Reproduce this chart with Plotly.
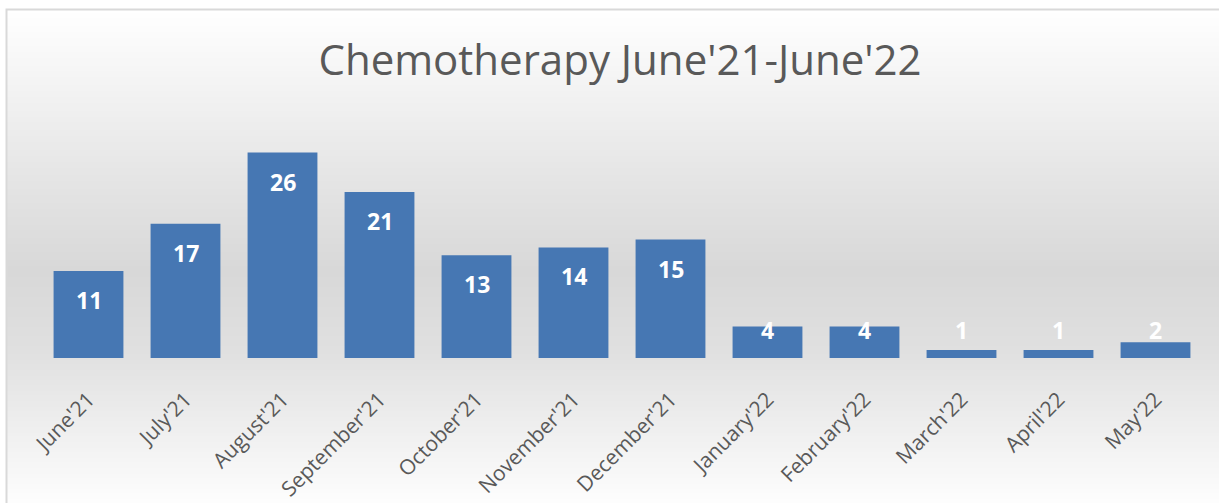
import base64, struct, zlib
import plotly.graph_objects as go

# ---- data ----
months = ["June'21", "July'21", "August'21", "September'21", "October'21", "November'21",
          "December'21", "January'22", "February'22", "March'22", "April'22", "May'22"]
patients = [11, 17, 26, 21, 13, 14, 15, 4, 4, 1, 1, 2]
title_text = "Chemotherapy June'21-June'22"

# ---- layout geometry ----
W, H = 1219, 503
ML, MR, MT, MB = 40, 15, 121, 145
PW, PH = W - ML - MR, H - MT - MB
YMAX = 30
ppu = PH / YMAX


def px_to_paper_x(px):
    return (px - ML) / PW


def px_to_paper_y(py):
    return (H - MB - py) / PH


# ---- vertical gray gradient background as a tiny PNG ----
def gradient_png(stops, h=256):
    raw = b""
    for i in range(h):
        t = i / (h - 1)
        for (t0, c0), (t1, c1) in zip(stops[:-1], stops[1:]):
            if t0 <= t <= t1:
                f = (t - t0) / (t1 - t0) if t1 > t0 else 0
                g = round(c0 + (c1 - c0) * f)
                break
        raw += b"\x00" + bytes([g, g, g]) * 2

    def chunk(tag, data):
        c = struct.pack(">I", len(data)) + tag + data
        return c + struct.pack(">I", zlib.crc32(tag + data) & 0xffffffff)

    png = b"\x89PNG\r\n\x1a\n"
    png += chunk(b"IHDR", struct.pack(">IIBBBBB", 2, h, 8, 2, 0, 0, 0))
    png += chunk(b"IDAT", zlib.compress(raw))
    png += chunk(b"IEND", b"")
    return "data:image/png;base64," + base64.b64encode(png).decode()


bg_src = gradient_png([(0.0, 255), (0.35, 228), (0.52, 216), (0.68, 224), (1.0, 255)])

fig = go.Figure()
fig.add_trace(go.Bar(
    x=months, y=patients,
    marker=dict(color="#4677b3", line=dict(width=0)),
    hoverinfo="x+y",
))

# data labels: inside end, pushed up when the bar is too short
annotations = []
for m, v in zip(months, patients):
    yl = max(v - 29 / ppu, 28 / ppu)
    annotations.append(dict(
        x=m, y=yl, xref="x", yref="y", text=str(v), showarrow=False,
        yanchor="middle", xanchor="center",
        font=dict(family="Open Sans", size=23, color="white", weight="bold"),
    ))

frame_x0, frame_y0 = 6.5, 9.5
frame_x1, frame_y1 = 1230, 512

fig.update_layout(
    width=W, height=H,
    margin=dict(l=ML, r=MR, t=MT, b=MB, autoexpand=False),
    paper_bgcolor="white",
    plot_bgcolor="rgba(0,0,0,0)",
    bargap=0.28,
    showlegend=False,
    title=dict(
        text=title_text, x=620 / W, xanchor="center", y=1 - 60 / H, yanchor="middle",
        xref="container", yref="container",
        font=dict(family="Open Sans", size=42, color="#595959"),
    ),
    xaxis=dict(
        tickangle=-45, showgrid=False, zeroline=False, showline=False,
        ticks="outside", ticklen=20, tickcolor="rgba(0,0,0,0)",
        tickfont=dict(family="Open Sans", size=21, color="#595959"),
        fixedrange=True,
    ),
    yaxis=dict(
        range=[0, YMAX], visible=False, fixedrange=True,
    ),
    annotations=annotations,
    images=[dict(
        source=bg_src, xref="paper", yref="paper",
        x=px_to_paper_x(frame_x0), y=px_to_paper_y(frame_y0),
        sizex=(frame_x1 - frame_x0) / PW, sizey=(frame_y1 - frame_y0) / PH,
        xanchor="left", yanchor="top", sizing="stretch", layer="below",
    )],
    shapes=[dict(
        type="rect", xref="paper", yref="paper",
        x0=px_to_paper_x(frame_x0), x1=px_to_paper_x(frame_x1),
        y0=px_to_paper_y(frame_y1), y1=px_to_paper_y(frame_y0),
        line=dict(color="#d9d9d9", width=2), fillcolor="rgba(0,0,0,0)", layer="above",
    )],
)

fig.write_html(
    "out.html",
    config={"displayModeBar": False},
    post_script="document.body.style.margin='0';document.body.style.overflow='hidden';",
)
